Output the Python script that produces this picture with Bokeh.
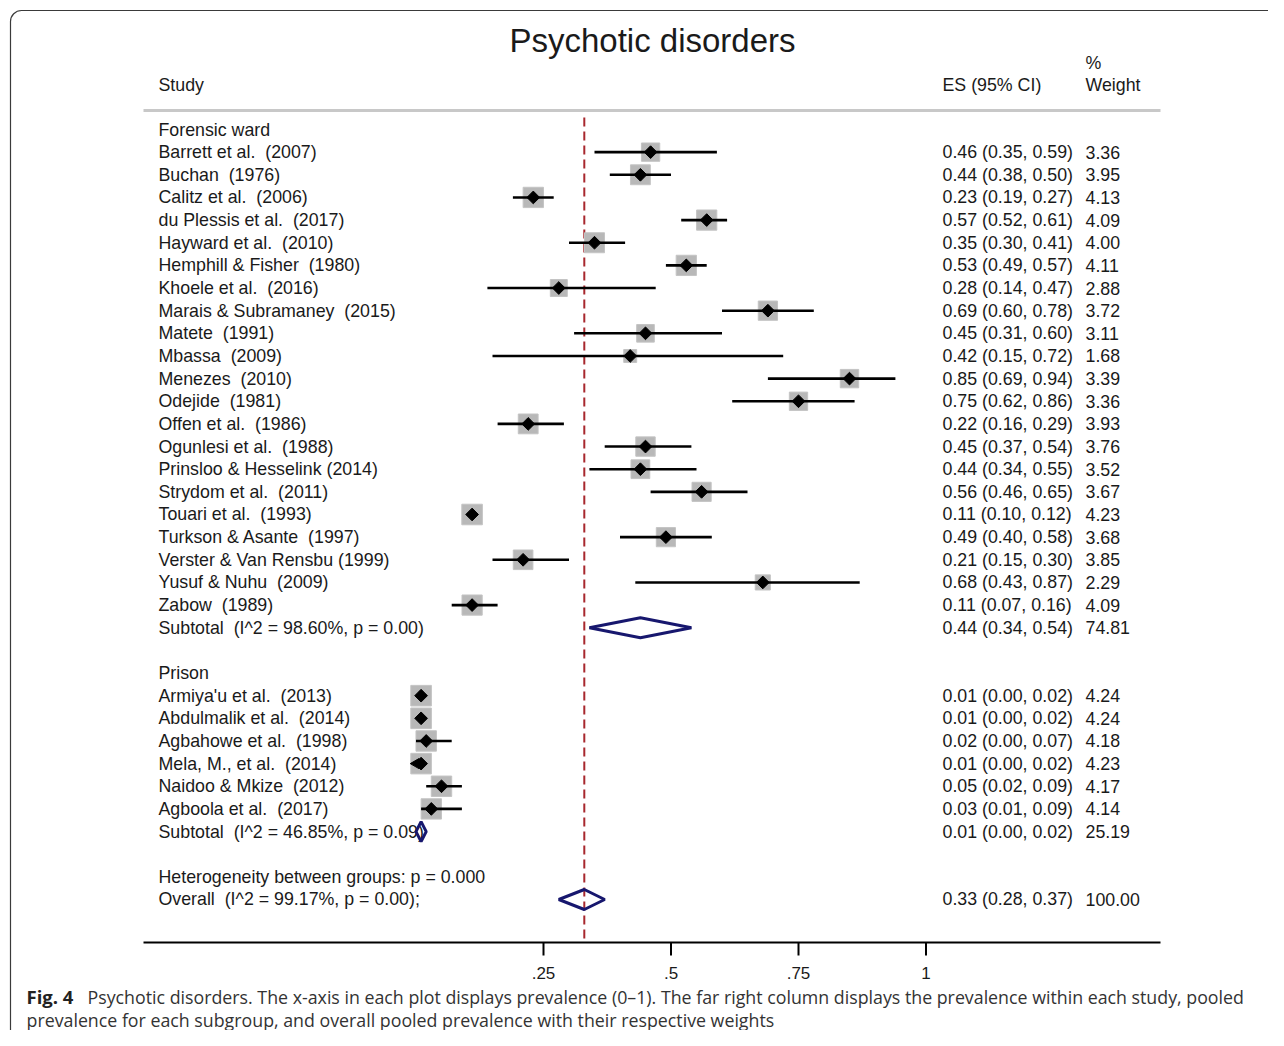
import math
from bokeh.plotting import figure
from bokeh.models import Range1d, ColumnDataSource
from bokeh.core.properties import value
from bokeh.embed import file_html
from bokeh.resources import INLINE

# ---------------- data ----------------
title = "Psychotic disorders"
group_names = ["Forensic ward", "Prison"]

forensic_studies = [
    "Barrett et al.  (2007)", "Buchan  (1976)", "Calitz et al.  (2006)",
    "du Plessis et al.  (2017)", "Hayward et al.  (2010)", "Hemphill & Fisher  (1980)",
    "Khoele et al.  (2016)", "Marais & Subramaney  (2015)", "Matete  (1991)",
    "Mbassa  (2009)", "Menezes  (2010)", "Odejide  (1981)", "Offen et al.  (1986)",
    "Ogunlesi et al.  (1988)", "Prinsloo & Hesselink (2014)", "Strydom et al.  (2011)",
    "Touari et al.  (1993)", "Turkson & Asante  (1997)", "Verster & Van Rensbu (1999)",
    "Yusuf & Nuhu  (2009)", "Zabow  (1989)",
]
forensic_es = [0.46, 0.44, 0.23, 0.57, 0.35, 0.53, 0.28, 0.69, 0.45, 0.42, 0.85,
               0.75, 0.22, 0.45, 0.44, 0.56, 0.11, 0.49, 0.21, 0.68, 0.11]
forensic_lo = [0.35, 0.38, 0.19, 0.52, 0.30, 0.49, 0.14, 0.60, 0.31, 0.15, 0.69,
               0.62, 0.16, 0.37, 0.34, 0.46, 0.10, 0.40, 0.15, 0.43, 0.07]
forensic_hi = [0.59, 0.50, 0.27, 0.61, 0.41, 0.57, 0.47, 0.78, 0.60, 0.72, 0.94,
               0.86, 0.29, 0.54, 0.55, 0.65, 0.12, 0.58, 0.30, 0.87, 0.16]
forensic_w = [3.36, 3.95, 4.13, 4.09, 4.00, 4.11, 2.88, 3.72, 3.11, 1.68, 3.39,
              3.36, 3.93, 3.76, 3.52, 3.67, 4.23, 3.68, 3.85, 2.29, 4.09]

prison_studies = [
    "Armiya'u et al.  (2013)", "Abdulmalik et al.  (2014)", "Agbahowe et al.  (1998)",
    "Mela, M., et al.  (2014)", "Naidoo & Mkize  (2012)", "Agboola et al.  (2017)",
]
prison_es = [0.01, 0.01, 0.02, 0.01, 0.05, 0.03]
prison_lo = [0.00, 0.00, 0.00, 0.00, 0.02, 0.01]
prison_hi = [0.02, 0.02, 0.07, 0.02, 0.09, 0.09]
prison_w = [4.24, 4.24, 4.18, 4.23, 4.17, 4.14]
prison_arrow = [False, False, False, True, False, False]

subtotal_labels = ["Subtotal  (I^2 = 98.60%, p = 0.00)", "Subtotal  (I^2 = 46.85%, p = 0.09)"]
subtotal_es = [0.44, 0.01]
subtotal_lo = [0.34, 0.00]
subtotal_hi = [0.54, 0.02]
subtotal_w = [74.81, 25.19]

het_label = "Heterogeneity between groups: p = 0.000"
overall_label = "Overall  (I^2 = 99.17%, p = 0.00);"
overall_es = [0.33]
overall_lo = [0.28]
overall_hi = [0.37]
overall_w = [100.00]

tick_vals = [0.25, 0.5, 0.75, 1.0]
tick_labels = [".25", ".5", ".75", "1"]

caption_bold = "Fig. 4"
caption_line1 = ("Psychotic disorders. The x-axis in each plot displays prevalence (0\u20131). "
                 "The far right column displays the prevalence within each study, pooled")
caption_line2 = "prevalence for each subgroup, and overall pooled prevalence with their respective weights"

# ---------------- layout ----------------
W, H = 1268, 1030
X0 = 415.5      # canvas px of x = 0
PXU = 510.0     # px per unit prevalence
R0 = 129.0      # canvas px of row 0
RPX = 22.647    # px per row


def px2x(px):
    return (px - X0) / PXU


def py2r(py):
    return (py - R0) / RPX


FONT = value("Liberation Sans")
TXT = "#1a1a1a"
FS = "17.8px"

p = figure(width=W, height=H, output_backend="svg", toolbar_location=None,
           x_axis_location=None, y_axis_location=None, min_border=0,
           x_range=Range1d(px2x(0), px2x(W)), y_range=Range1d(py2r(H), py2r(0)))
p.grid.visible = False
p.outline_line_color = None
p.background_fill_color = "white"
p.border_fill_color = "white"


def fix(s):
    return s.replace("  ", " \u00a0")


# rows
rows_text, rows_y = [], []
es_text, es_y, w_text = [], [], []
row = 0

rows_text.append(group_names[0]); rows_y.append(row); row += 1
f_rows = []
for i, s in enumerate(forensic_studies):
    rows_text.append(fix(s)); rows_y.append(row); f_rows.append(row)
    es_text.append(f"{forensic_es[i]:.2f} ({forensic_lo[i]:.2f}, {forensic_hi[i]:.2f})")
    w_text.append(f"{forensic_w[i]:.2f}"); es_y.append(row)
    row += 1
sub_rows = [row]
rows_text.append(fix(subtotal_labels[0])); rows_y.append(row)
es_text.append(f"{subtotal_es[0]:.2f} ({subtotal_lo[0]:.2f}, {subtotal_hi[0]:.2f})")
w_text.append(f"{subtotal_w[0]:.2f}"); es_y.append(row)
row += 2
rows_text.append(group_names[1]); rows_y.append(row); row += 1
p_rows = []
for i, s in enumerate(prison_studies):
    rows_text.append(fix(s)); rows_y.append(row); p_rows.append(row)
    es_text.append(f"{prison_es[i]:.2f} ({prison_lo[i]:.2f}, {prison_hi[i]:.2f})")
    w_text.append(f"{prison_w[i]:.2f}"); es_y.append(row)
    row += 1
sub_rows.append(row)
rows_text.append(fix(subtotal_labels[1])); rows_y.append(row)
es_text.append(f"{subtotal_es[1]:.2f} ({subtotal_lo[1]:.2f}, {subtotal_hi[1]:.2f})")
w_text.append(f"{subtotal_w[1]:.2f}"); es_y.append(row)
row += 2
rows_text.append(het_label); rows_y.append(row); row += 1
ov_row = row
rows_text.append(fix(overall_label)); rows_y.append(row)
es_text.append(f"{overall_es[0]:.2f} ({overall_lo[0]:.2f}, {overall_hi[0]:.2f})")
w_text.append(f"{overall_w[0]:.2f}"); es_y.append(row)

axis_row = py2r(942)
top_row = py2r(110)

# frame border (rounded)
p.quad(left=[px2x(10)], right=[px2x(W + 60)], top=[py2r(10)], bottom=[py2r(H + 60)],
       fill_color=None, line_color="#3a3a3a", line_width=1.2, border_radius=11)

# header
p.text(x=[px2x(652)], y=[py2r(40)], text=[title], text_font=FONT, text_font_size="33px",
       text_align="center", text_baseline="middle", text_color=TXT)
p.text(x=[px2x(158)], y=[py2r(84)], text=["Study"], text_font=FONT, text_font_size=FS,
       text_baseline="middle", text_color=TXT)
p.text(x=[px2x(942), px2x(1085)], y=[py2r(84), py2r(84)], text=["ES (95% CI)", "Weight"],
       text_font=FONT, text_font_size=FS, text_baseline="middle", text_color=TXT)
p.text(x=[px2x(1085)], y=[py2r(62)], text=["%"], text_font=FONT, text_font_size=FS,
       text_baseline="middle", text_color=TXT)
p.segment(x0=[px2x(143)], x1=[px2x(1160)], y0=[top_row], y1=[top_row],
          line_color="#c8c8c8", line_width=3)

# row labels
p.text(x=px2x(158), y=rows_y, text=rows_text, text_font=FONT, text_font_size=FS,
       text_baseline="middle", text_color=TXT)
p.text(x=px2x(942), y=es_y, text=es_text, text_font=FONT, text_font_size=FS,
       text_baseline="middle", text_color=TXT)
p.text(x=px2x(1085), y=es_y, text=w_text, text_font=FONT, text_font_size=FS,
       text_baseline="middle", text_color=TXT)

# overall pooled estimate line
p.segment(x0=overall_es, x1=overall_es, y0=[py2r(117)], y1=[axis_row],
          line_color="#a8282e", line_width=2, line_dash="9 5")

# studies
all_es = forensic_es + prison_es
all_lo = forensic_lo + prison_lo
all_hi = forensic_hi + prison_hi
all_w = forensic_w + prison_w
all_rows = f_rows + p_rows
src = ColumnDataSource(dict(x=all_es, lo=all_lo, hi=all_hi, y=all_rows,
                            box=[10.0 * math.sqrt(w) for w in all_w]))
p.scatter(x="x", y="y", size="box", marker="square", source=src,
          fill_color="#b8b8b8", line_color="#c4c4c4", line_width=1)
p.segment(x0="lo", x1="hi", y0="y", y1="y", source=src, line_color="black", line_width=2.6)
p.scatter(x="x", y="y", size=9, marker="square", angle=math.pi / 4, source=src,
          fill_color="black", line_color="black")
arr_x = [prison_lo[i] for i in range(len(prison_lo)) if prison_arrow[i]]
arr_y = [p_rows[i] for i in range(len(p_rows)) if prison_arrow[i]]
p.scatter(x=arr_x, y=arr_y, marker="triangle", angle=math.pi / 2, size=10,
          fill_color="black", line_color="black")

# pooled diamonds
hh = 10.0 / RPX
pool_es = subtotal_es + overall_es
pool_lo = subtotal_lo + overall_lo
pool_hi = subtotal_hi + overall_hi
pool_rows = sub_rows + [ov_row]
p.patches(xs=[[l, e, h, e] for l, e, h in zip(pool_lo, pool_es, pool_hi)],
          ys=[[r, r - hh, r, r + hh] for r in pool_rows],
          fill_color=None, line_color="#17176e", line_width=3)

# x axis
p.segment(x0=[px2x(143)], x1=[px2x(1160)], y0=[axis_row], y1=[axis_row],
          line_color="black", line_width=2)
p.segment(x0=tick_vals, x1=tick_vals, y0=[axis_row] * len(tick_vals),
          y1=[axis_row + 13.0 / RPX] * len(tick_vals), line_color="black", line_width=2)
p.text(x=tick_vals, y=[py2r(972)] * len(tick_vals), text=tick_labels, text_font=FONT,
       text_font_size="17px", text_align="center", text_baseline="middle", text_color=TXT)

# caption
CF = value("Open Sans")
p.text(x=[px2x(26)], y=[py2r(996)], text=[caption_bold], text_font=CF, text_font_size="18.5px",
       text_font_style="bold", text_baseline="middle", text_color="#222222")
p.text(x=[px2x(87)], y=[py2r(996)], text=[caption_line1], text_font=CF,
       text_font_size="17.8px", text_baseline="middle", text_color="#333333")
p.text(x=[px2x(26)], y=[py2r(1019)], text=[caption_line2], text_font=CF,
       text_font_size="17.8px", text_baseline="middle", text_color="#333333")

open("out.html", "w").write(file_html(p, INLINE))
